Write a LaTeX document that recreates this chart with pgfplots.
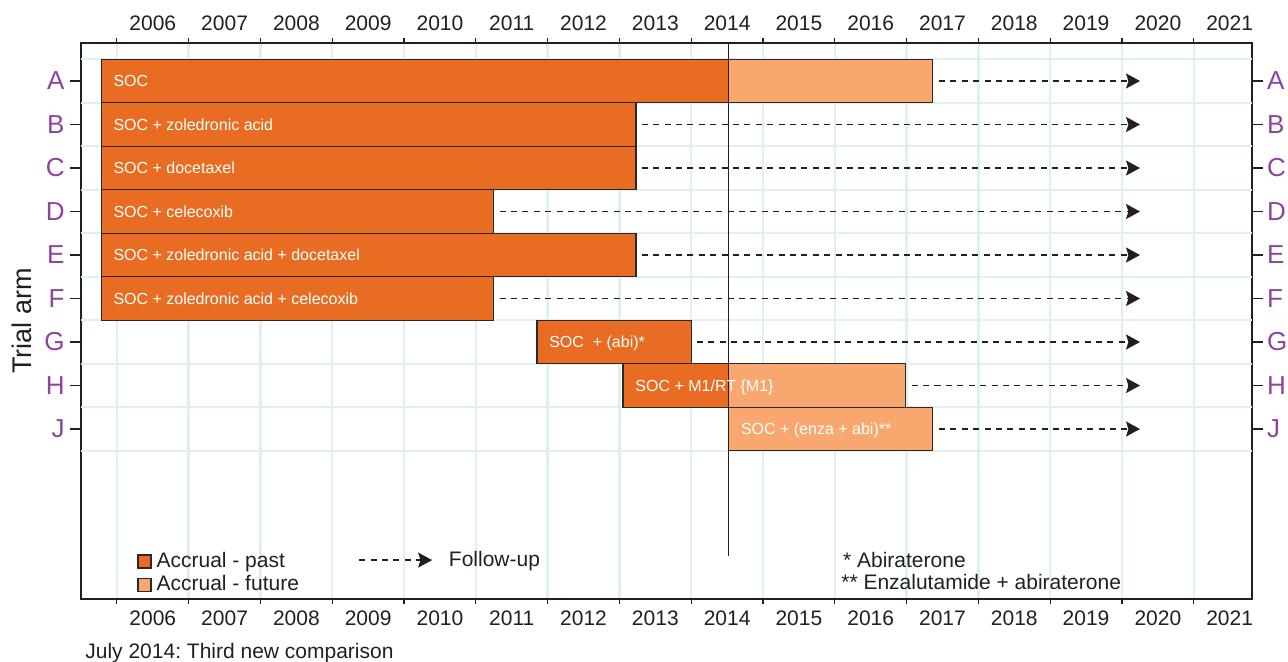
\documentclass[border=0pt]{standalone}
\usepackage{fontspec}
\setmainfont{Liberation Sans}
\usepackage{pgfplots}
\pgfplotsset{compat=1.18}
\usetikzlibrary{arrows.meta,calc}

\definecolor{past}{RGB}{232,109,35}
\definecolor{future}{RGB}{248,168,111}
\definecolor{gridc}{RGB}{222,240,240}
\definecolor{purp}{RGB}{142,68,158}
\definecolor{txt}{RGB}{35,31,32}
\definecolor{bord}{RGB}{45,40,40}

\tikzset{
  bararm/.style={draw=bord, line width=0.6pt},
  follow/.style={txt, line width=0.8pt, dash pattern=on 3pt off 2.7pt, -{Stealth[length=7pt,width=7.5pt,inset=1.2pt]}},
}
\pgfplotsset{
  base/.style={
    scale only axis, width=585.5pt, height=278pt,
    xmin=2005.5, xmax=2021.81, ymin=-3.908, ymax=8.874,
    tick align=outside,
    tick style={txt, line width=0.6pt},
    xtick={2006,...,2021},
    xticklabels={2006,2007,2008,2009,2010,2011,2012,2013,2014,2015,2016,2017,2018,2019,2020,2021},
    ytick={0,...,8},
    yticklabels={J,H,G,F,E,D,C,B,A},
    no markers,
  },
}

\begin{document}
\frenchspacing
\begin{tikzpicture}
\begin{axis}[base,
  axis line style={txt, line width=0.7pt},
  xtick pos=both, xticklabel pos=lower,
  major tick length=2.5pt,
  xticklabel style={xshift=17.95pt, font=\fontsize{10.5}{10.5}\selectfont, text=txt},
  ytick style={draw=none},
  yticklabel style={text=purp, font=\fontsize{13}{13}\selectfont, xshift=-2.2pt},
  xmajorgrids,
  major grid style={draw=gridc, line width=1.2pt},
  extra y ticks={-0.5,0.5,1.5,2.5,3.5,4.5,5.5,6.5,7.5,8.5},
  extra y tick labels={},
  extra y tick style={grid=major, major tick length=0pt},
  legend image code/.code={\draw[#1] (0pt,-3.25pt) rectangle (6.5pt,3.25pt);},
  legend style={draw=none, fill=none, at={(axis description cs:0.0478,0.0881)}, anchor=north west,
    inner sep=0pt, font=\fontsize{10.5}{10.5}\selectfont, text=txt, row sep=0.5pt, column sep=1.5pt,
    nodes={inner sep=1pt}},
  legend cell align=left,
]
% A
\addplot[bararm, fill=past]   coordinates {(2005.78,7.5) (2014.52,7.5) (2014.52,8.5) (2005.78,8.5)} -- cycle;
\addplot[bararm, fill=future] coordinates {(2014.52,7.5) (2017.36,7.5) (2017.36,8.5) (2014.52,8.5)} -- cycle;
% B
\addplot[bararm, fill=past]   coordinates {(2005.78,6.5) (2013.23,6.5) (2013.23,7.5) (2005.78,7.5)} -- cycle;
% C
\addplot[bararm, fill=past]   coordinates {(2005.78,5.5) (2013.23,5.5) (2013.23,6.5) (2005.78,6.5)} -- cycle;
% D
\addplot[bararm, fill=past]   coordinates {(2005.78,4.5) (2011.25,4.5) (2011.25,5.5) (2005.78,5.5)} -- cycle;
% E
\addplot[bararm, fill=past]   coordinates {(2005.78,3.5) (2013.23,3.5) (2013.23,4.5) (2005.78,4.5)} -- cycle;
% F
\addplot[bararm, fill=past]   coordinates {(2005.78,2.5) (2011.25,2.5) (2011.25,3.5) (2005.78,3.5)} -- cycle;
% G
\addplot[bararm, fill=past]   coordinates {(2011.85,1.5) (2014.00,1.5) (2014.00,2.5) (2011.85,2.5)} -- cycle;
% H
\addplot[bararm, fill=past]   coordinates {(2013.05,0.5) (2014.52,0.5) (2014.52,1.5) (2013.05,1.5)} -- cycle;
\addplot[bararm, fill=future] coordinates {(2014.52,0.5) (2016.98,0.5) (2016.98,1.5) (2014.52,1.5)} -- cycle;
% J
\addplot[bararm, fill=future] coordinates {(2014.52,-0.5) (2017.36,-0.5) (2017.36,0.5) (2014.52,0.5)} -- cycle;

% follow-up arrows
\addplot[follow] coordinates {(2017.45,8) (2020.25,8)};
\addplot[follow] coordinates {(2013.31,7) (2020.25,7)};
\addplot[follow] coordinates {(2013.31,6) (2020.25,6)};
\addplot[follow] coordinates {(2011.33,5) (2020.25,5)};
\addplot[follow] coordinates {(2013.31,4) (2020.25,4)};
\addplot[follow] coordinates {(2011.33,3) (2020.25,3)};
\addplot[follow] coordinates {(2014.08,2) (2020.25,2)};
\addplot[follow] coordinates {(2017.07,1) (2020.25,1)};
\addplot[follow] coordinates {(2017.45,0) (2020.25,0)};

% current date line (July 2014)
\addplot[txt, line width=0.65pt] coordinates {(2014.52,8.874) (2014.52,-2.92)};

% bar labels
\begin{scope}[every node/.style={anchor=base west, inner sep=0pt, text=white, font=\fontsize{8}{8}\selectfont, xshift=6pt, yshift=-2.9pt}]
\node at (axis cs:2005.78,8) {SOC};
\node at (axis cs:2005.78,7) {SOC + zoledronic acid};
\node at (axis cs:2005.78,6) {SOC + docetaxel};
\node at (axis cs:2005.78,5) {SOC + celecoxib};
\node at (axis cs:2005.78,4) {SOC + zoledronic acid + docetaxel};
\node at (axis cs:2005.78,3) {SOC + zoledronic acid + celecoxib};
\node at (axis cs:2011.85,2) {SOC\ \ + (abi)*};
\node at (axis cs:2013.05,1) {SOC + M1/RT \{M1\}};
\node at (axis cs:2014.52,0) {SOC + (enza + abi)**};
\end{scope}

\addlegendimage{fill=past, draw=bord, line width=0.6pt}
\addlegendentry{Accrual - past}
\addlegendimage{fill=future, draw=bord, line width=0.6pt}
\addlegendentry{Accrual - future}

% footnotes
\node[anchor=base west, inner sep=0pt, text=txt, font=\fontsize{10.5}{10.5}\selectfont] at (axis description cs:0.6505,0.0558) {* Abiraterone};
\node[anchor=base west, inner sep=0pt, text=txt, font=\fontsize{10.5}{10.5}\selectfont] at (axis description cs:0.6490,0.0180) {** Enzalutamide + abiraterone};
\end{axis}

\begin{axis}[base,
  axis line style={draw=none},
  xticklabel pos=upper,
  xtick style={draw=none},
  major tick length=5.5pt,
  ytick pos=both, yticklabel pos=right,
  xticklabel style={xshift=17.95pt, yshift=-3pt, font=\fontsize{10.5}{10.5}\selectfont, text=txt},
  yticklabel style={text=purp, font=\fontsize{13}{13}\selectfont, xshift=-1.5pt},
  legend image code/.code={\draw[follow] (0pt,0pt) -- (36.5pt,0pt);},
  legend style={draw=none, fill=none, at={(axis description cs:0.2365,0.0700)}, anchor=west,
    inner sep=0pt, font=\fontsize{10.5}{10.5}\selectfont, text=txt, nodes={inner sep=1pt}},
]
\addlegendimage{follow}
\addlegendentry{\hspace{7pt}Follow-up}
\end{axis}

\node[anchor=base west, inner sep=0pt, text=txt, font=\fontsize{10.5}{10.5}\selectfont]
  at ($(current axis.south west)+(2pt,-29.5pt)$) {July 2014: Third new comparison};
\node[rotate=90, inner sep=0pt, text=txt, font=\fontsize{13.5}{13.5}\selectfont]
  at ($(current axis.west)+(-29.5pt,0pt)$) {Trial arm};

\pgfresetboundingbox
\path ($(current axis.south west)+(-40.5pt,-31pt)$) rectangle ($(current axis.north east)+(18pt,21.5pt)$);
\end{tikzpicture}
\end{document}
